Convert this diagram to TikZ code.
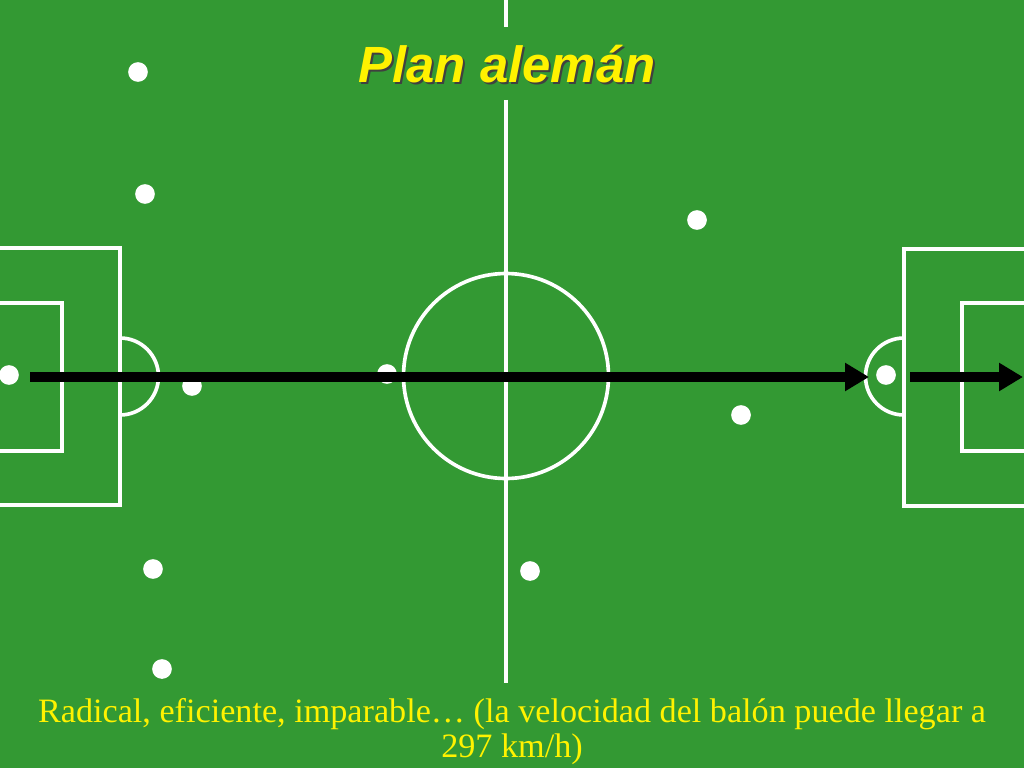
\documentclass[tikz,border=0pt]{standalone}
\usepackage{fontspec}
\setmainfont{Liberation Serif}
\newfontfamily\titulo{Liberation Sans}
\usetikzlibrary{arrows.meta}
\begin{document}
\begin{tikzpicture}[x=0.025cm,y=-0.025cm]
        %colores
        \definecolor{cesped}{RGB}{51,153,51}
        \colorlet{amarillo}{yellow}
        \tikzset{
            linea/.style={white,line width=2.6pt},
            jugador/.style={circle,fill=white,inner sep=0pt,minimum size=14pt},
            pase/.style={line width=7.5pt,-{Triangle[length=17pt,width=19pt]}}
        }

        % Fondo
        \fill[cesped] (0,0) rectangle (1024,768);
        \useasboundingbox (0,0) rectangle (1024,768);

        % Linea central y circulo
        \draw[linea] (506,0) -- (506,27);
        \draw[linea] (506,100) -- (506,683);
        \draw[linea] (506,376) circle (102.5);

        % Area izquierda
        \draw[linea] (0,248) -- (120,248) -- (120,505) -- (0,505);
        \draw[linea] (0,303) -- (62,303) -- (62,451) -- (0,451);
        \draw[linea] (120,338) arc (-90:90:38.5);
        % Area derecha
        \draw[linea] (1024,249) -- (904,249) -- (904,506) -- (1024,506);
        \draw[linea] (1024,303) -- (962,303) -- (962,451) -- (1024,451);
        \draw[linea] (904,338) arc (270:90:38.5);

        % Jugadores
        \foreach \x/\y/\nombre in {138/72/j1, 145/194/j2, 9/375/j3, 192/386/j4,
            387/374/j5, 153/569/j6, 162/669/j7, 697/220/j8, 741/415/j9,
            886/375/j10, 530/571/j11}
            \node[jugador] (\nombre) at (\x,\y) {};

        % Pases
        \coordinate (salida) at (30,377);
        \coordinate (llegada) at (869,377);
        \coordinate (rebote) at (910,377);
        \coordinate (gol) at (1023,377);
        \draw[pase] (salida) -- (llegada);
        \draw[pase] (rebote) -- (gol);

        % Titulo
        \node[anchor=base,black!75,font=\titulo\bfseries\itshape\fontsize{36.2}{40}\selectfont]
            (sombra) at (509,85) {Plan alemán};
        \node[anchor=base,amarillo,font=\titulo\bfseries\itshape\fontsize{36.2}{40}\selectfont]
            (titulo) at (507,83) {Plan alemán};

        % Texto
        \node[anchor=base,amarillo,align=center,font=\fontsize{24.3}{24.2}\selectfont]
            (texto) at (512,757) {Radical, eficiente, imparable… (la velocidad del balón puede llegar a\\297 km/h)};
    \end{tikzpicture}
\end{document}
